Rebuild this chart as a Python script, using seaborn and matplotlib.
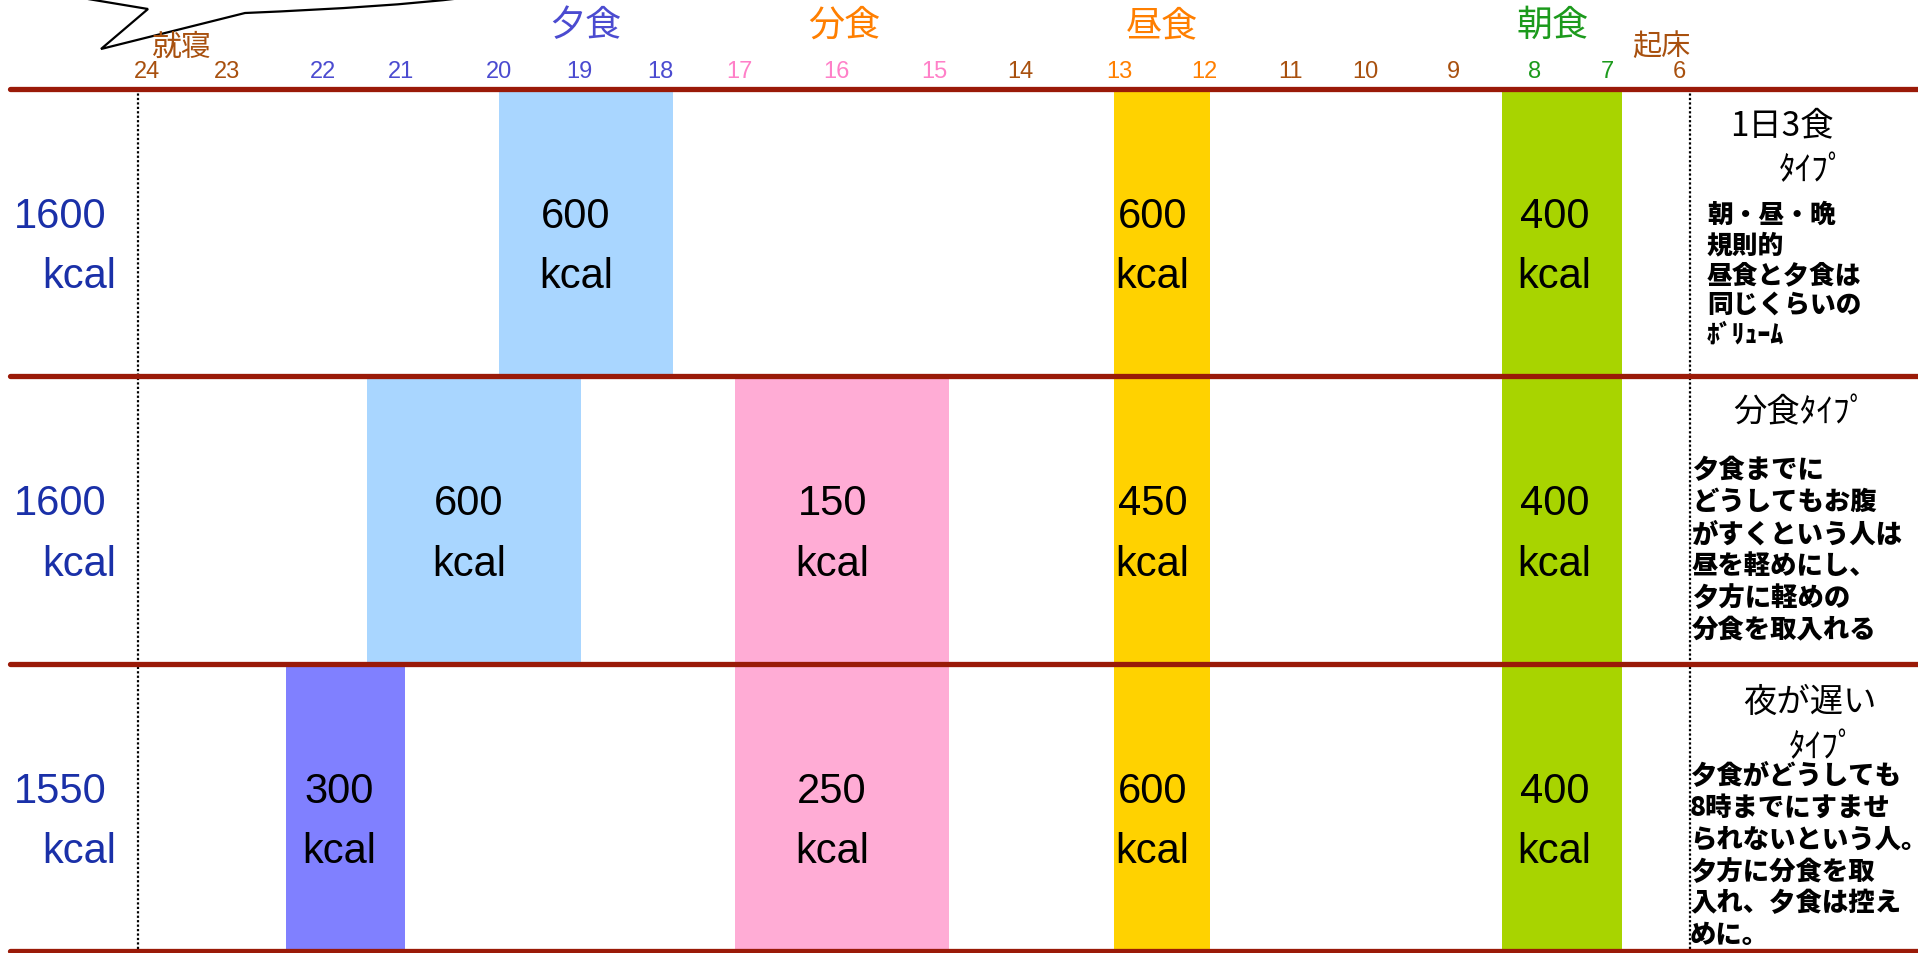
import numpy as np
import pandas as pd
import matplotlib
matplotlib.use("Agg")
import matplotlib.pyplot as plt
import seaborn as sns
from matplotlib.path import Path
from matplotlib.patches import PathPatch

# ---------------------------------------------------------------- data
plan_types = ["1日3食タイプ", "分食タイプ", "夜が遅いタイプ"]
daily_totals = [1600, 1600, 1550]

hours = list(range(24, 5, -1))          # 24 (就寝) ... 6 (起床)
meal_headers = ["夕食", "分食", "昼食", "朝食"]

# time windows of each meal (clock hours) and its energy (kcal)
dinner_start = [20.0, 21.44, 22.39]
dinner_end = [17.84, 18.98, 20.955]
dinner_kcal = [600, 600, 300]

snack_start = [None, 17.05, 17.05]
snack_end = [None, 14.83, 14.83]
snack_kcal = [None, 150, 250]

lunch_start = [13.05, 13.05, 13.05]
lunch_end = [11.93, 11.93, 11.93]
lunch_kcal = [600, 450, 600]

breakfast_start = [8.40, 8.40, 8.40]
breakfast_end = [6.79, 6.79, 6.79]
breakfast_kcal = [400, 400, 400]

type_titles = [["1日3食", "ﾀｲﾌﾟ"], ["分食ﾀｲﾌﾟ"], ["夜が遅い", "ﾀｲﾌﾟ"]]
type_notes = [
    ["朝・昼・晩", "規則的", "昼食と夕食は", "同じくらいの", "ﾎﾞﾘｭｰﾑ"],
    ["夕食までに", "どうしてもお腹", "がすくという人は", "昼を軽めにし、",
     "夕方に軽めの", "分食を取入れる"],
    ["夕食がどうしても", "8時までにすませ", "られないという人。", "夕方に分食を取",
     "入れ、夕食は控え", "めに。"],
]

# ---------------------------------------------------------------- tidy table
records = []
for meal, starts, ends, kcals in [
    ("dinner", dinner_start, dinner_end, dinner_kcal),
    ("snack", snack_start, snack_end, snack_kcal),
    ("lunch", lunch_start, lunch_end, lunch_kcal),
    ("breakfast", breakfast_start, breakfast_end, breakfast_kcal),
]:
    for row, (s, e, k) in enumerate(zip(starts, ends, kcals)):
        if k is None:
            continue
        records.append(dict(row=row, meal=meal, start=s, end=e, kcal=k))
meals = pd.DataFrame(records)

# ---------------------------------------------------------------- style
sns.set_theme(style="white")
plt.rcParams["font.family"] = ["Liberation Sans", "Noto Sans CJK JP", "DejaVu Sans"]
JP = ["Noto Sans CJK JP", "DejaVu Sans"]

W, H = 1918, 954
RED = "#9a1a08"
BROWN = "#a8500e"
BLUE = "#4b4bd0"
PINK = "#ff80c8"
ORANGE = "#ff7f00"
GREEN = "#1c9a1c"
NAVY = "#1a30a8"

bar_colors = {
    ("dinner", 0): "#a9d6ff", ("dinner", 1): "#a9d6ff", ("dinner", 2): "#8080ff",
}
meal_colors = {"snack": "#ffacd5", "lunch": "#ffd200", "breakfast": "#a8d400"}

hour_colors = {24: BROWN, 23: BROWN, 22: BLUE, 21: BLUE, 20: BLUE, 19: BLUE,
               18: BLUE, 17: PINK, 16: PINK, 15: PINK, 14: BROWN, 13: ORANGE,
               12: ORANGE, 11: BROWN, 10: BROWN, 9: BROWN, 8: GREEN, 7: GREEN,
               6: BROWN}

# the clock axis is drawn with uneven hour spacing, late hours on the left
hour_px = [147, 227, 323, 401, 499, 579, 660, 739, 836, 934, 1020, 1119,
           1204, 1290, 1365, 1453, 1535, 1607, 1679]          # for 24 ... 6
knot_h = np.array([30.0] + hours + [0.0])
knot_p = np.array([hour_px[0] - 6 * 80] + hour_px + [hour_px[-1] + 6 * 72], float)


def clock_forward(h):
    return np.interp(np.asarray(h, float), knot_h[::-1], knot_p[::-1])


def clock_inverse(p):
    return np.interp(np.asarray(p, float), knot_p, knot_h)


fig = plt.figure(figsize=(W / 100, H / 100), dpi=100)
top_px, bottom_px = 89.7, 952.0
ax = fig.add_axes([0, (H - bottom_px) / H, 1, (bottom_px - top_px) / H])
ax.set_xscale("function", functions=(clock_forward, clock_inverse))
# the scale itself runs right-to-left, so limits go in increasing data order
ax.set_xlim(float(clock_inverse(W)), float(clock_inverse(0)))
ax.set_ylim(2.5, -0.5)
for s in ax.spines.values():
    s.set_visible(False)

# ---------------------------------------------------------------- bars
NUM_DY, UNIT_DY = -0.058, 0.152
for _, m in meals.iterrows():
    color = bar_colors.get((m.meal, m.row), meal_colors.get(m.meal))
    ax.barh(m.row, m.end - m.start, left=m.start, height=1.0,
            color=color, linewidth=0, zorder=1)
    cx = (m.start + m.end) / 2
    ax.annotate(f"{m.kcal}", xy=(cx, m.row + NUM_DY), xytext=(-7, 0),
                textcoords="offset points", ha="center", va="center",
                fontsize=30, color="black", zorder=4)
    ax.annotate("kcal", xy=(cx, m.row + UNIT_DY), xytext=(-7, 0),
                textcoords="offset points", ha="center", va="center",
                fontsize=30, color="black", zorder=4)

# row separators
for y in [-0.5, 0.5, 1.5, 2.5]:
    ax.axhline(y, xmin=10 / W, xmax=1, color=RED, lw=3.8, zorder=3,
               clip_on=False)

# bedtime / wake-up guide lines
guide = ax.get_yaxis_transform()
for gx in [137.5 / W, 1690 / W]:
    ax.plot([gx, gx], [-0.5, 2.5], transform=guide, color="black",
            lw=1.6, linestyle=(0, (1, 1)), zorder=2, clip_on=False)

# ---------------------------------------------------------------- hour ticks
ax.set_xticks(hours)
ax.set_xticklabels([str(h) for h in hours])
ax.xaxis.tick_top()
ax.tick_params(axis="x", length=0, pad=5, labelsize=17)
for lab, h in zip(ax.get_xticklabels(), hours):
    lab.set_color(hour_colors[h])
ax.set_yticks([])
ax.minorticks_off()

# ---------------------------------------------------------------- headers
for name, px, col in zip(meal_headers, [585, 844, 1162, 1553],
                         [BLUE, ORANGE, ORANGE, GREEN]):
    fig.text(px / W, 1 - 26 / H, name, ha="center", va="center",
             fontsize=26, color=col, family=JP)
fig.text(182 / W, 1 - 47 / H, "就寝", ha="center", va="center",
         fontsize=21.5, color=BROWN, family=JP)
fig.text(1661 / W, 1 - 47 / H, "起床", ha="center", va="center",
         fontsize=21, color=BROWN, family=JP)

# speech-bubble outline at the top left
bubble = Path(
    [(88, 0), (148, 10), (101, 50), (245, 14), (390, 8), (462, -1)],
    [Path.MOVETO, Path.LINETO, Path.LINETO, Path.LINETO, Path.CURVE3, Path.CURVE3],
)
bubble = Path(np.column_stack([bubble.vertices[:, 0] / W,
                               1 - bubble.vertices[:, 1] / H]), bubble.codes)
fig.add_artist(PathPatch(bubble, fill=False, edgecolor="black", lw=1.6,
                         transform=fig.transFigure))

# ---------------------------------------------------------------- row totals
for row, total in enumerate(daily_totals):
    ax.annotate(f"{total}", xy=(60, row + NUM_DY),
                xycoords=("figure pixels", "data"), ha="center", va="center",
                fontsize=30, color=NAVY)
    ax.annotate("kcal", xy=(79, row + UNIT_DY),
                xycoords=("figure pixels", "data"), ha="center", va="center",
                fontsize=30, color=NAVY)

# ---------------------------------------------------------------- type notes
title_pos = [[(1782, 126), (1812, 171)], [(1800, 413)], [(1810, 702), (1822, 748)]]
note_layout = [(1707, 215, 30.0, 18.5), (1692, 470, 32.0, 19), (1690, 776, 31.8, 19)]
for row in range(3):
    for txt, (px, py) in zip(type_titles[row], title_pos[row]):
        fig.text(px / W, 1 - py / H, txt, ha="center", va="center",
                 fontsize=24, color="black", family=JP)
    x0, y0, dy, fs = note_layout[row]
    for i, line in enumerate(type_notes[row]):
        fig.text(x0 / W, 1 - (y0 + i * dy) / H, line, ha="left", va="center",
                 fontsize=fs, color="black", family=JP, fontweight="black")

fig.savefig("out.png", dpi=100)
